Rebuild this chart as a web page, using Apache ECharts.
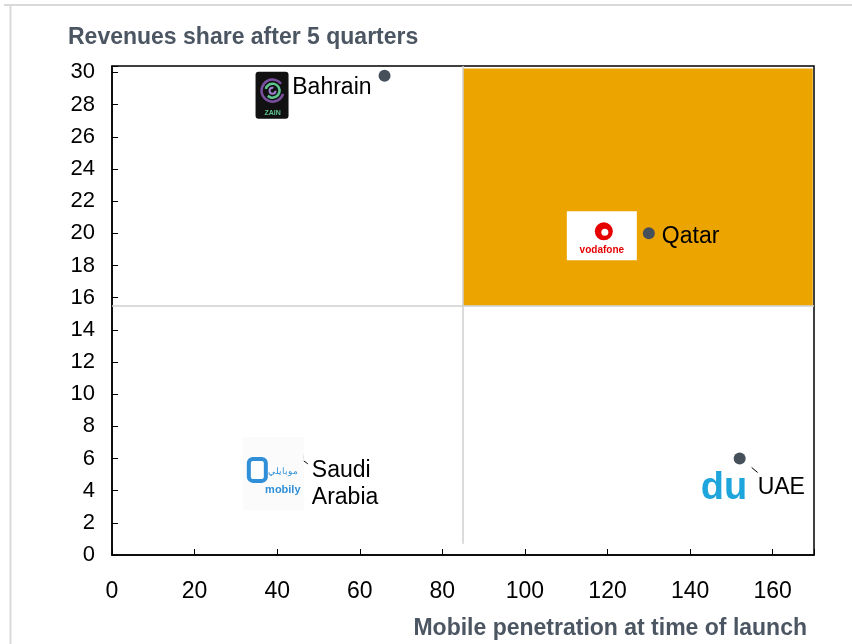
<!DOCTYPE html>
<html>
<head>
<meta charset="utf-8">
<script src="https://cdn.jsdelivr.net/npm/echarts@6/dist/echarts.min.js"></script>
<style>
  html, body { margin: 0; padding: 0; background: #fff; }
  #chart { width: 852px; height: 644px; }
</style>
</head>
<body>
<div id="chart"></div>
<script>
// data
const countries = ['Bahrain', 'Qatar', 'Saudi\nArabia', 'UAE'];
const penetration = [66, 130, 45, 152];     // x: mobile penetration at launch
const revenueShare = [29.8, 20, 6.1, 6];    // y: revenue share after 5 quarters
const xTicks = [0, 20, 40, 60, 80, 100, 120, 140, 160];
const yTicks = [0, 2, 4, 6, 8, 10, 12, 14, 16, 18, 20, 22, 24, 26, 28, 30];
const splitX = 85;
const splitY = 15.5;
const xMax = 170;
const yMax = 30.4;

const font = '"Liberation Sans", Arial, sans-serif';
const dotColor = '#46505b';

// label placement per point (relative to symbol box)
const labelPos = [
    { position: [-7, 18], align: 'right', verticalAlign: 'middle' },
    { position: [19, 9], align: 'left', verticalAlign: 'middle' },
    { position: [20, 6], align: 'left', verticalAlign: 'top', lineHeight: 27 },
    { position: [24, 35], align: 'left', verticalAlign: 'middle' }
];

const chart = echarts.init(document.getElementById('chart'));

const options = {
    animation: false,
    title: [
        {
            text: 'Revenues share after 5 quarters',
            left: 68,
            top: 26,
            padding: 0,
            textStyle: { fontFamily: font, fontSize: 23, fontWeight: 'bold', color: '#4b5662' }
        },
        {
            text: 'Mobile penetration at time of launch',
            right: 45,
            top: 617,
            padding: 0,
            textStyle: { fontFamily: font, fontSize: 23, fontWeight: 'bold', color: '#4b5662' }
        }
    ],
    grid: {
        left: 112,
        right: 38,
        top: 66,
        bottom: 89,
        show: true,
        borderColor: '#000',
        borderWidth: 1.5,
        backgroundColor: 'transparent'
    },
    xAxis: {
        type: 'value',
        min: 0,
        max: xMax,
        interval: 20,
        splitLine: { show: false },
        axisLine: { lineStyle: { color: '#000', width: 1.5 } },
        axisTick: { inside: true, length: 6, lineStyle: { color: '#000' } },
        axisLabel: {
            margin: 25,
            fontFamily: font,
            fontSize: 23,
            color: '#000',
            formatter: v => (xTicks.includes(v) ? String(v) : '')
        }
    },
    yAxis: {
        type: 'value',
        min: 0,
        max: yMax,
        interval: 2,
        splitLine: { show: false },
        axisLine: { lineStyle: { color: '#000', width: 1.5 } },
        axisTick: { inside: true, length: 6, lineStyle: { color: '#000' } },
        axisLabel: {
            margin: 17,
            fontFamily: font,
            fontSize: 22,
            color: '#000',
            formatter: v => (yTicks.includes(v) ? String(v) : '')
        }
    },
    series: [
        {
            type: 'scatter',
            symbolSize: 12,
            itemStyle: { color: dotColor, opacity: 1 },
            data: penetration.map((x, i) => ({
                value: [x, revenueShare[i]],
                label: Object.assign({
                    show: true,
                    formatter: countries[i],
                    fontFamily: font,
                    fontSize: 23,
                    color: '#000',
                    opacity: 1
                }, labelPos[i])
            })),
            markArea: {
                silent: true,
                itemStyle: { color: '#eca400', opacity: 1 },
                data: [[{ coord: [splitX, splitY] }, { coord: [xMax - 0.3, yMax - 0.15] }]]
            },
            markLine: {
                silent: true,
                symbol: 'none',
                label: { show: false },
                lineStyle: { color: '#cfcfcf', width: 1.5, type: 'solid' },
                data: [
                    [{ coord: [0, splitY] }, { coord: [xMax, splitY] }],
                    [{ coord: [splitX, 0.7] }, { coord: [splitX, yMax] }]
                ]
            },
            z: 5
        }
    ]
};

chart.setOption(options);

// logos and page frame, placed next to their points
const px = i => chart.convertToPixel({ gridIndex: 0 }, [penetration[i], revenueShare[i]]);
const zain = px(0), voda = px(1), mob = px(2), du = px(3);

const graphics = [
    // page frame (top and left edges)
    { type: 'line', shape: { x1: 4, y1: 5, x2: 852, y2: 5 }, style: { stroke: '#d9d9d9', lineWidth: 2 } },
    { type: 'line', shape: { x1: 10.5, y1: 5, x2: 10.5, y2: 644 }, style: { stroke: '#d9d9d9', lineWidth: 2 } },

    // zain logo
    { type: 'rect', shape: { x: zain[0] - 129, y: zain[1] - 4, width: 33, height: 47, r: 3 }, style: { fill: '#111' }, z: 10 },
    { type: 'arc', shape: { cx: zain[0] - 112, cy: zain[1] + 15, r: 11, startAngle: 0.3, endAngle: 5.6 }, style: { stroke: '#7b4fa0', lineWidth: 2.5, fill: null }, z: 11 },
    { type: 'arc', shape: { cx: zain[0] - 112, cy: zain[1] + 15, r: 7, startAngle: 3.4, endAngle: 8.6 }, style: { stroke: '#5fc48f', lineWidth: 2.5, fill: null }, z: 11 },
    { type: 'arc', shape: { cx: zain[0] - 112, cy: zain[1] + 15, r: 3, startAngle: 0, endAngle: 5 }, style: { stroke: '#9f7fd0', lineWidth: 2, fill: null }, z: 11 },
    { type: 'text', style: { x: zain[0] - 112, y: zain[1] + 37, text: 'ZAIN', fill: '#5fc48f', font: 'bold 7px ' + font, align: 'center', verticalAlign: 'middle' }, z: 11 },

    // vodafone logo
    { type: 'rect', shape: { x: voda[0] - 82, y: voda[1] - 22, width: 70, height: 49 }, style: { fill: '#fff' }, z: 10 },
    { type: 'circle', shape: { cx: voda[0] - 45, cy: voda[1] - 2, r: 9 }, style: { fill: '#e60000' }, z: 11 },
    { type: 'circle', shape: { cx: voda[0] - 44, cy: voda[1] - 1, r: 3.5 }, style: { fill: '#fff' }, z: 12 },
    { type: 'text', style: { x: voda[0] - 47, y: voda[1] + 17, text: 'vodafone', fill: '#e60000', font: 'bold 10px ' + font, align: 'center', verticalAlign: 'middle' }, z: 11 },

    // mobily logo
    { type: 'rect', shape: { x: mob[0] - 55, y: mob[1] - 20, width: 61, height: 73 }, style: { fill: '#fbfbfb' }, z: 10 },
    { type: 'rect', shape: { x: mob[0] - 49, y: mob[1] + 2, width: 17, height: 22, r: 4 }, style: { fill: '#fff', stroke: '#2f8fd8', lineWidth: 4 }, z: 11 },
    { type: 'text', style: { x: mob[0] - 15, y: mob[1] + 15, text: 'موبايلي', fill: '#2f8fd8', font: '9px "Noto Sans", ' + font, align: 'center', verticalAlign: 'middle' }, z: 11 },
    { type: 'text', style: { x: mob[0] - 15, y: mob[1] + 33, text: 'mobily', fill: '#2f8fd8', font: 'bold 11px ' + font, align: 'center', verticalAlign: 'middle' }, z: 11 },
    { type: 'line', shape: { x1: mob[0] + 6, y1: mob[1] + 4, x2: mob[0] + 10, y2: mob[1] + 7 }, style: { stroke: '#000', lineWidth: 1 }, z: 11 },

    // du logo
    { type: 'text', style: { x: du[0] - 39, y: du[1] + 30, text: 'du', fill: '#1ea5dc', font: 'bold 38px ' + font, align: 'left', verticalAlign: 'middle' }, z: 11 },
    { type: 'line', shape: { x1: du[0] + 12, y1: du[1] + 9, x2: du[0] + 18, y2: du[1] + 14 }, style: { stroke: '#000', lineWidth: 1 }, z: 11 }
];

chart.setOption({ graphic: graphics });
</script>
</body>
</html>
